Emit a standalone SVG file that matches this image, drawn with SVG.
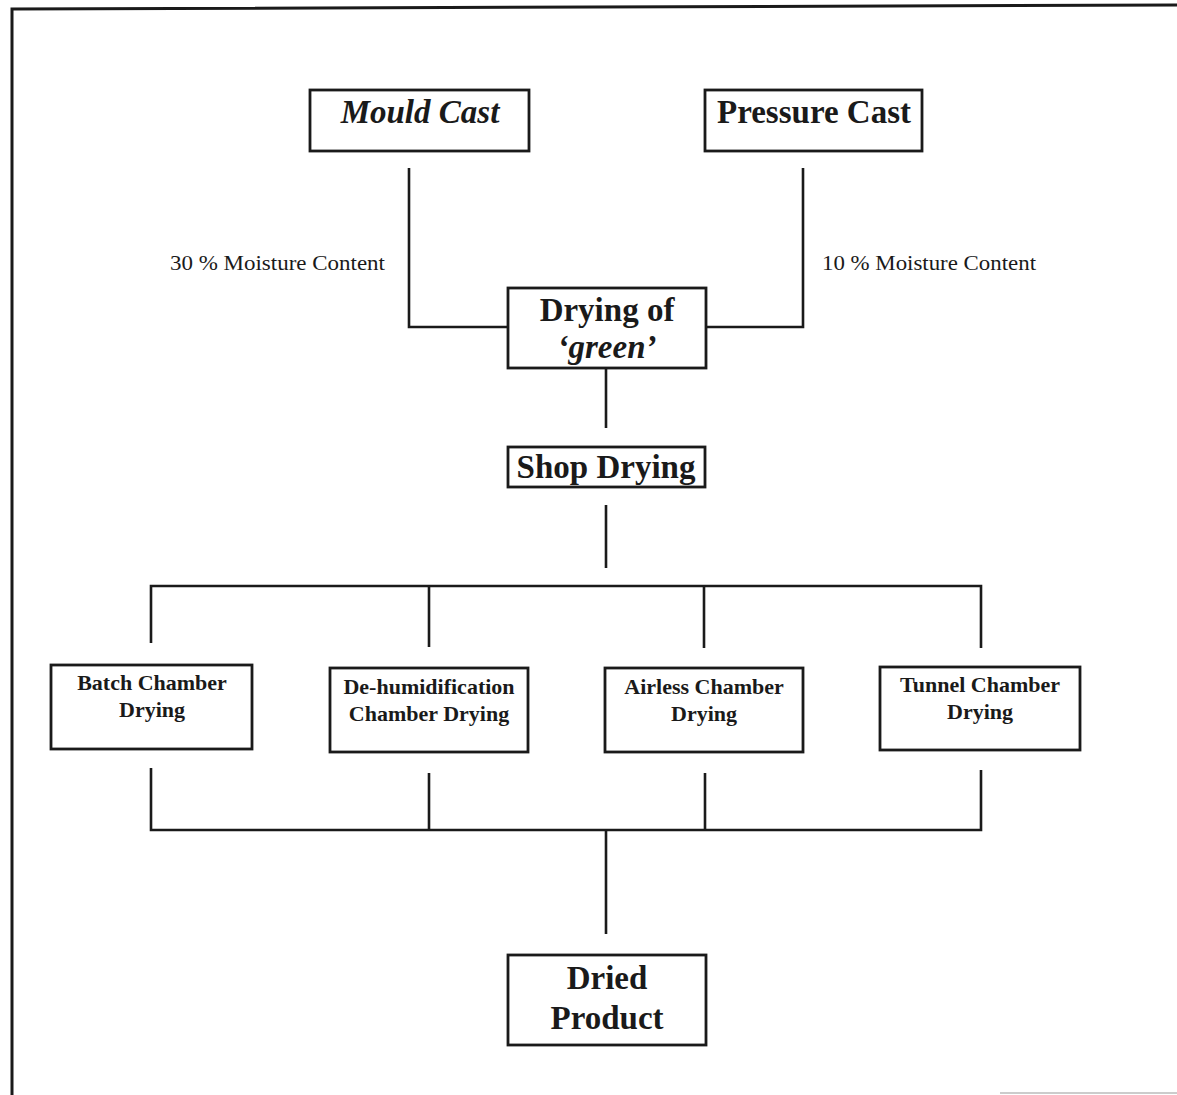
<svg xmlns="http://www.w3.org/2000/svg" width="1177" height="1095" viewBox="0 0 1177 1095">
  <style>
    .box { fill: #fff; stroke: #1a1a1a; stroke-width: 2.8; }
    .wire { fill: none; stroke: #1a1a1a; stroke-width: 2.6; }
    .t { font-family: "Liberation Serif", "Times New Roman", serif; fill: #1a1a1a; text-anchor: middle; }
    .big { font-size: 33px; font-weight: bold; }
    .mid { font-size: 22px; font-weight: bold; }
    .note { font-size: 21px; text-anchor: start; }
  </style>
  <rect width="1177" height="1095" fill="#fff"/>

  <!-- page frame -->
  <path d="M1177,5 L12,9 L12,1095" fill="none" stroke="#1a1a1a" stroke-width="3"/>
  <line x1="1000" y1="1093" x2="1177" y2="1093" stroke="#bbb" stroke-width="1.5"/>

  <!-- connectors -->
  <g id="connectors">
    <polyline class="wire" points="409,168 409,327 508,327"/>
    <polyline class="wire" points="803,168 803,327 706,327"/>
    <line class="wire" x1="606" y1="368" x2="606" y2="428"/>
    <line class="wire" x1="606" y1="505" x2="606" y2="568"/>
    <polyline class="wire" points="151,643 151,586 981,586 981,648"/>
    <line class="wire" x1="429" y1="586" x2="429" y2="647"/>
    <line class="wire" x1="704" y1="586" x2="704" y2="648"/>
    <polyline class="wire" points="151,768 151,830 981,830 981,770"/>
    <line class="wire" x1="429" y1="773" x2="429" y2="830"/>
    <line class="wire" x1="705" y1="773" x2="705" y2="830"/>
    <line class="wire" x1="606" y1="830" x2="606" y2="934"/>
  </g>

  <!-- moisture labels -->
  <text class="t note" x="170" y="270" textLength="215" lengthAdjust="spacingAndGlyphs">30 %  Moisture Content</text>
  <text class="t note" x="822" y="270" textLength="214" lengthAdjust="spacingAndGlyphs">10 %  Moisture Content</text>

  <g id="mould-cast">
    <rect class="box" x="310" y="90" width="219" height="61"/>
    <text class="t big" x="420" y="123" font-style="italic">Mould Cast</text>
  </g>

  <g id="pressure-cast">
    <rect class="box" x="705" y="90" width="217" height="61"/>
    <text class="t big" x="814" y="123">Pressure Cast</text>
  </g>

  <g id="drying-green">
    <rect class="box" x="508" y="288" width="198" height="80"/>
    <text class="t big" x="607" y="321">Drying of</text>
    <text class="t big" x="607" y="358" font-style="italic">‘green’</text>
  </g>

  <g id="shop-drying">
    <rect class="box" x="508" y="447" width="197" height="40"/>
    <text class="t big" x="606" y="478">Shop Drying</text>
  </g>

  <g id="batch-chamber">
    <rect class="box" x="51" y="665" width="201" height="84"/>
    <text class="t mid" x="152" y="690">Batch Chamber</text>
    <text class="t mid" x="152" y="717">Drying</text>
  </g>

  <g id="dehumidification-chamber">
    <rect class="box" x="330" y="668" width="198" height="84"/>
    <text class="t mid" x="429" y="694">De-humidification</text>
    <text class="t mid" x="429" y="721">Chamber Drying</text>
  </g>

  <g id="airless-chamber">
    <rect class="box" x="605" y="668" width="198" height="84"/>
    <text class="t mid" x="704" y="694">Airless Chamber</text>
    <text class="t mid" x="704" y="721">Drying</text>
  </g>

  <g id="tunnel-chamber">
    <rect class="box" x="880" y="667" width="200" height="83"/>
    <text class="t mid" x="980" y="692">Tunnel Chamber</text>
    <text class="t mid" x="980" y="719">Drying</text>
  </g>

  <g id="dried-product">
    <rect class="box" x="508" y="955" width="198" height="90"/>
    <text class="t big" x="607" y="989">Dried</text>
    <text class="t big" x="607" y="1029">Product</text>
  </g>
</svg>
